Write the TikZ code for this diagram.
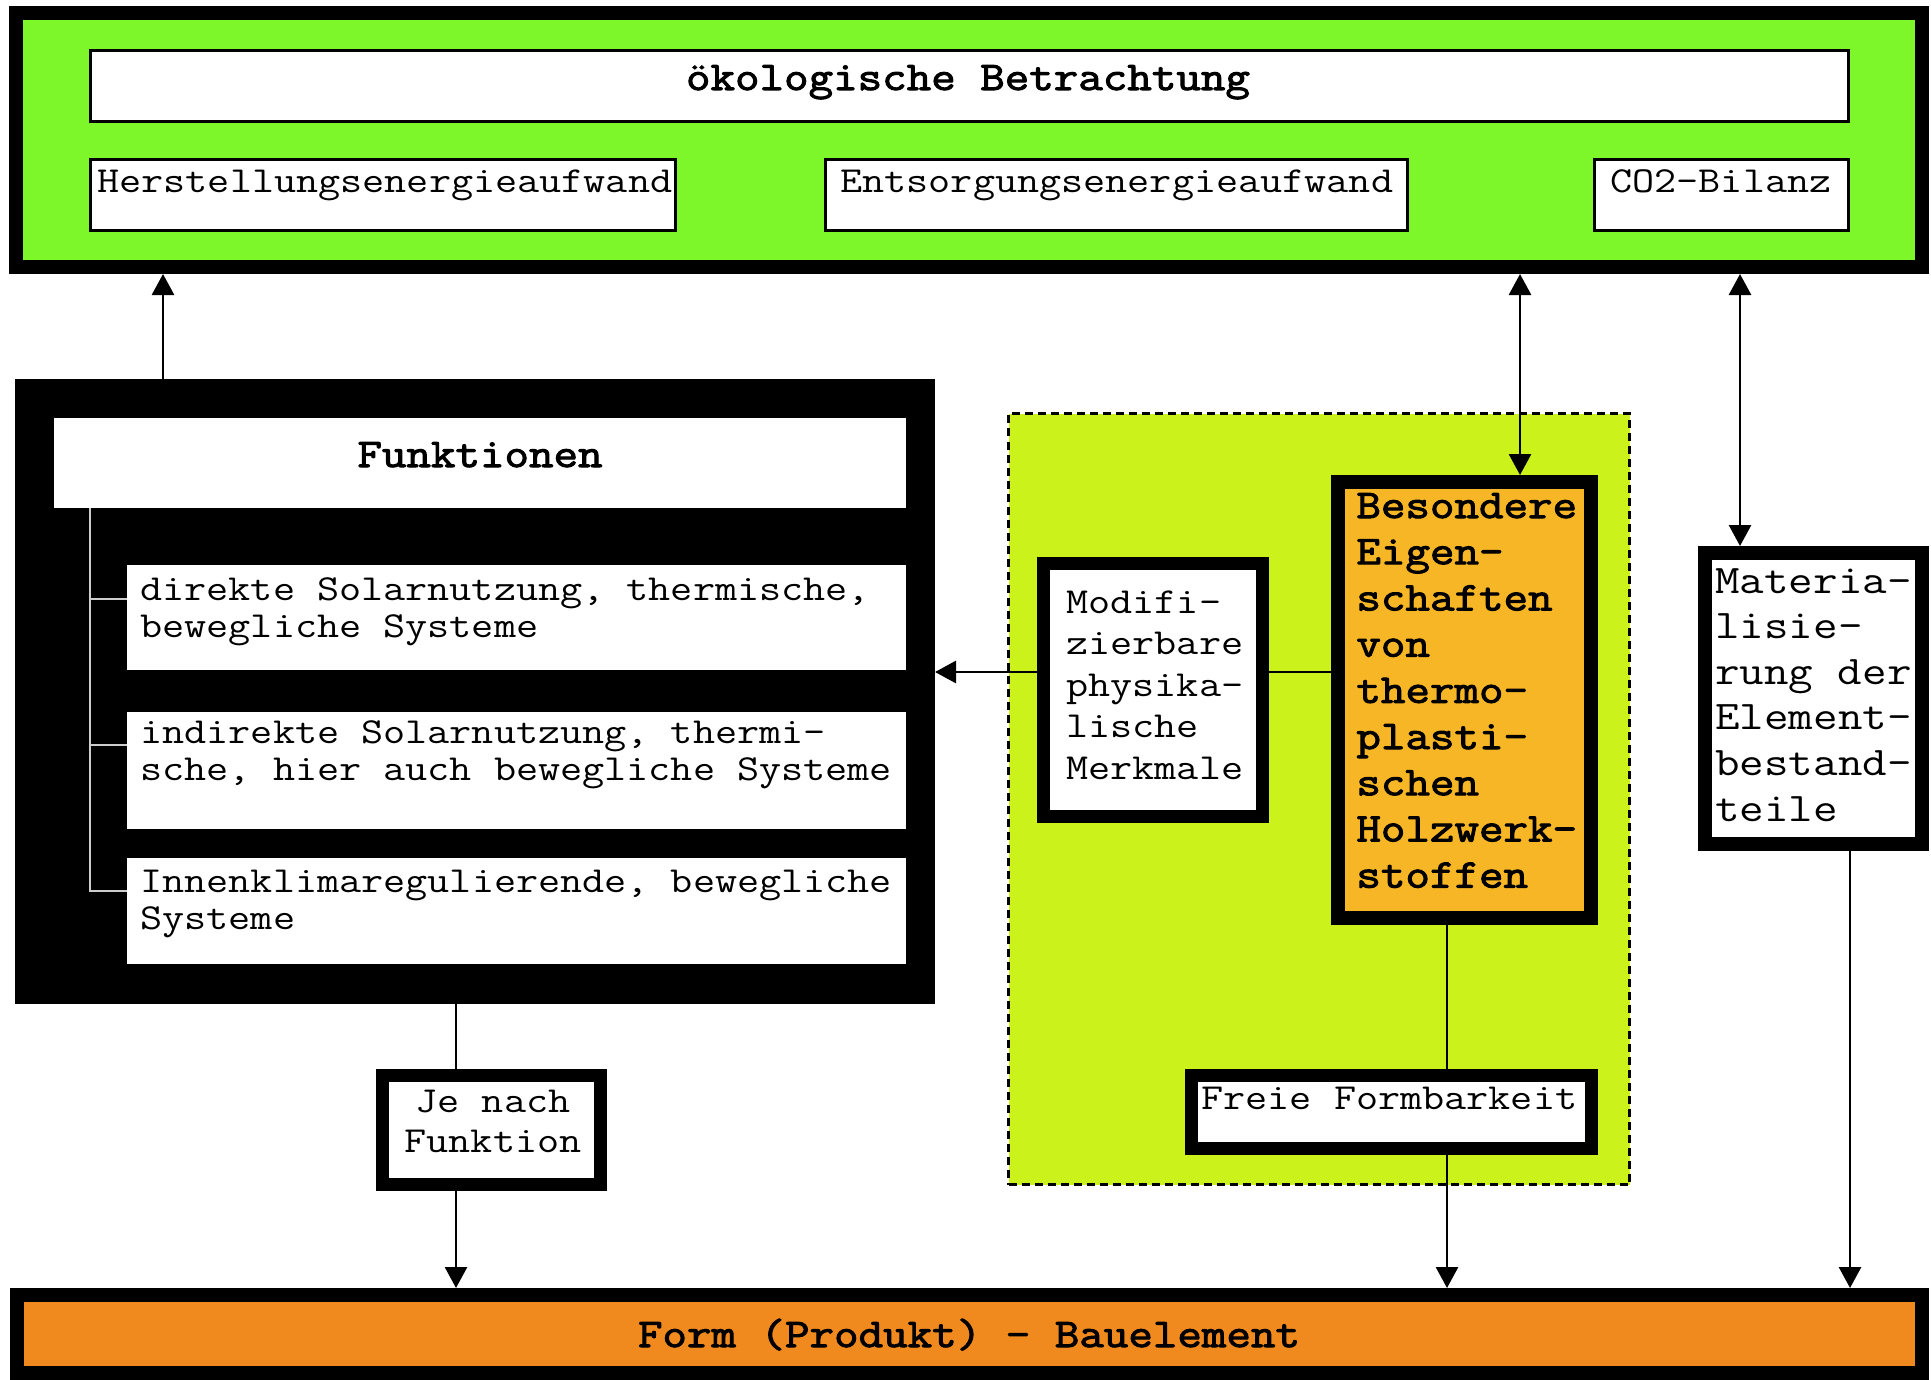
\documentclass[tikz,border=0pt]{standalone}
\usepackage{fontspec}
% typewriter face stretched to the usual 0.6em advance
\newfontfamily\tw{Latin Modern Mono}[FakeStretch=1.171]
\newfontfamily\twbold{Latin Modern Mono}[FakeStretch=1.171, FakeBold=2.5]
\usetikzlibrary{arrows.meta}

\definecolor{ecogreen}{RGB}{125,247,42}
\definecolor{zonegreen}{RGB}{204,242,28}
\definecolor{proporange}{RGB}{247,182,38}
\definecolor{formorange}{RGB}{240,137,30}
\definecolor{treegray}{RGB}{205,205,205}

% font sizes: regular text and the larger headings
\newcommand\nsz{\tw\fontsize{18.33pt}{18.75pt}\selectfont}
\newcommand\lsz{\tw\fontsize{20.33pt}{23pt}\selectfont}
\newcommand\lbsz{\twbold\fontsize{20.33pt}{23pt}\selectfont}

% stacked lines with a fixed leading; baseline = first line
\newcommand\linesleft[2]{\vtop{\baselineskip=#1\relax\lineskiplimit=-\maxdimen\halign{##\hfil\cr#2\crcr}}}
\newcommand\linescentre[2]{\vtop{\baselineskip=#1\relax\lineskiplimit=-\maxdimen\halign{\hfil##\hfil\cr#2\crcr}}}

\tikzset{
  thinbox/.style={draw, line width=1.5pt, fill=white, inner sep=0pt},
  heavybox/.style={draw, line width=6.5pt, fill=white, inner sep=0pt},
  plainbox/.style={fill=white, inner sep=0pt, outer sep=0pt},
  txt/.style={inner sep=0pt, anchor=base west, font=\nsz},
  headtxt/.style={inner sep=0pt, anchor=base, font=\lbsz},
  conn/.style={line width=1.4pt},
  arr/.style={conn, -{Triangle[width=11pt,length=10.5pt]}},
  darr/.style={conn, {Triangle[width=11pt,length=10.5pt]}-{Triangle[width=11pt,length=10.5pt]}},
  tree/.style={draw=treegray, line width=1pt}
}

\begin{document}
\begin{tikzpicture}[x=0.5pt,y=-0.5pt]
\useasboundingbox (0,0) rectangle (1931,1380);
\fill[white] (0,0) rectangle (1931,1380);

% ecological assessment panel
\node[draw, line width=7pt, fill=ecogreen, inner sep=0pt,
      minimum width=953pt, minimum height=127pt] (eco) at (969,140) {};
\node[thinbox, minimum width=879pt, minimum height=35.5pt] (title) at (969.5,86) {};
\node[headtxt] (titletxt) at (968,90) {ökologische Betrachtung};
\node[thinbox, minimum width=292.5pt, minimum height=35.5pt] (herst) at (383,195) {};
\node[txt] (hersttxt) at (97,193) {Herstellungsenergieaufwand};
\node[thinbox, minimum width=291pt, minimum height=35.5pt] (entsorg) at (1116.5,195) {};
\node[txt] (entsorgtxt) at (840,193) {Entsorgungsenergieaufwand};
\node[thinbox, minimum width=127pt, minimum height=35.5pt] (co2) at (1721.5,195) {};
\node[txt] (co2txt) at (1610,193) {CO2-Bilanz};

% functions block
\node[fill=black, inner sep=0pt, outer sep=0pt,
      minimum width=460pt, minimum height=312.5pt] (func) at (475,691.5) {};
\node[plainbox, minimum width=426pt, minimum height=45pt] (funchead) at (480,463) {};
\node[headtxt] (functxt) at (480,467) {Funktionen};
\node[plainbox, minimum width=389.5pt, minimum height=52.5pt] (item1) at (516.5,617.5) {};
\node[txt] (item1txt) at (140,600)
  {\linesleft{18.75pt}{direkte Solarnutzung, thermische,\cr bewegliche Systeme}};
\node[plainbox, minimum width=389.5pt, minimum height=58.5pt] (item2) at (516.5,770.5) {};
\node[txt] (item2txt) at (140,743)
  {\linesleft{18.75pt}{indirekte Solarnutzung, thermi-\cr sche, hier auch bewegliche Systeme}};
\node[plainbox, minimum width=389.5pt, minimum height=53pt] (item3) at (516.5,911) {};
\node[txt] (item3txt) at (140,892)
  {\linesleft{18.75pt}{Innenklimaregulierende, bewegliche\cr Systeme}};

% tree lines joining the function items
\coordinate (xt) at (90,0);
\coordinate (yt1) at (0,599);
\coordinate (yt2) at (0,745);
\coordinate (yt3) at (0,891);
\draw[tree] (funchead.south -| xt) |- (item3.west |- yt3);
\draw[tree] (xt |- yt1) -- (item1.west |- yt1);
\draw[tree] (xt |- yt2) -- (item2.west |- yt2);

% material zone
\node[draw, dashed, dash pattern=on 4pt off 2.5pt, line width=1.5pt, fill=zonegreen,
      inner sep=0pt, minimum width=310.5pt, minimum height=385.5pt] (zone) at (1319,799) {};
\node[heavybox, minimum width=109.5pt, minimum height=126.5pt] (modif) at (1153,690) {};
\node[txt] (modiftxt) at (1066,613)
  {\linesleft{20.75pt}{Modifi-\cr zierbare\cr physika-\cr lische\cr Merkmale}};
\node[heavybox, line width=7pt, fill=proporange, minimum width=126.5pt, minimum height=218pt] (bes) at (1464.5,700) {};
\node[txt, font=\lbsz] (bestxt) at (1356,518)
  {\linesleft{23.1pt}{Besondere\cr Eigen-\cr schaften\cr von\cr thermo-\cr plasti-\cr schen\cr Holzwerk-\cr stoffen}};
\node[heavybox, minimum width=200pt, minimum height=36.5pt] (frei) at (1391.5,1112) {};
\node[txt] (freitxt) at (1201,1109) {Freie Formbarkeit};

% materialisation
\node[heavybox, line width=7pt, minimum width=108.5pt, minimum height=145.5pt] (mat) at (1813.5,698.5) {};
\node[txt, font=\lsz] (mattxt) at (1715,593)
  {\linesleft{22.8pt}{Materia-\cr lisie-\cr rung der\cr Element-\cr bestand-\cr teile}};

% depending on function
\node[heavybox, minimum width=109pt, minimum height=54.5pt] (je) at (491.5,1130) {};
\node[txt, anchor=base] (jetxt) at (493,1112) {\linescentre{20pt}{Je nach\cr Funktion}};

% product form bar
\node[draw, line width=7pt, fill=formorange, inner sep=0pt,
      minimum width=952.5pt, minimum height=39pt] (form) at (969.5,1334) {};
\node[headtxt] (formtxt) at (969,1347) {Form (Produkt) - Bauelement};

% connectors
\coordinate (xa) at (163,0);
\coordinate (xb) at (1520,0);
\coordinate (xc) at (1740,0);
\coordinate (ya) at (0,672);
\coordinate (xd) at (456,0);
\coordinate (xe) at (1447,0);
\coordinate (xf) at (1850,0);
\draw[arr] (func.north -| xa) -- (eco.south -| xa);
\draw[darr] (eco.south -| xb) -- (bes.north -| xb);
\draw[darr] (eco.south -| xc) -- (mat.north -| xc);
\draw[arr] (modif.west |- ya) -- (func.east |- ya);
\draw[conn] (modif.east |- ya) -- (bes.west |- ya);
\draw[conn] (func.south -| xd) -- (je.north -| xd);
\draw[arr] (je.south -| xd) -- (form.north -| xd);
\draw[conn] (bes.south -| xe) -- (frei.north -| xe);
\draw[arr] (frei.south -| xe) -- (form.north -| xe);
\draw[arr] (mat.south -| xf) -- (form.north -| xf);
\end{tikzpicture}
\end{document}
